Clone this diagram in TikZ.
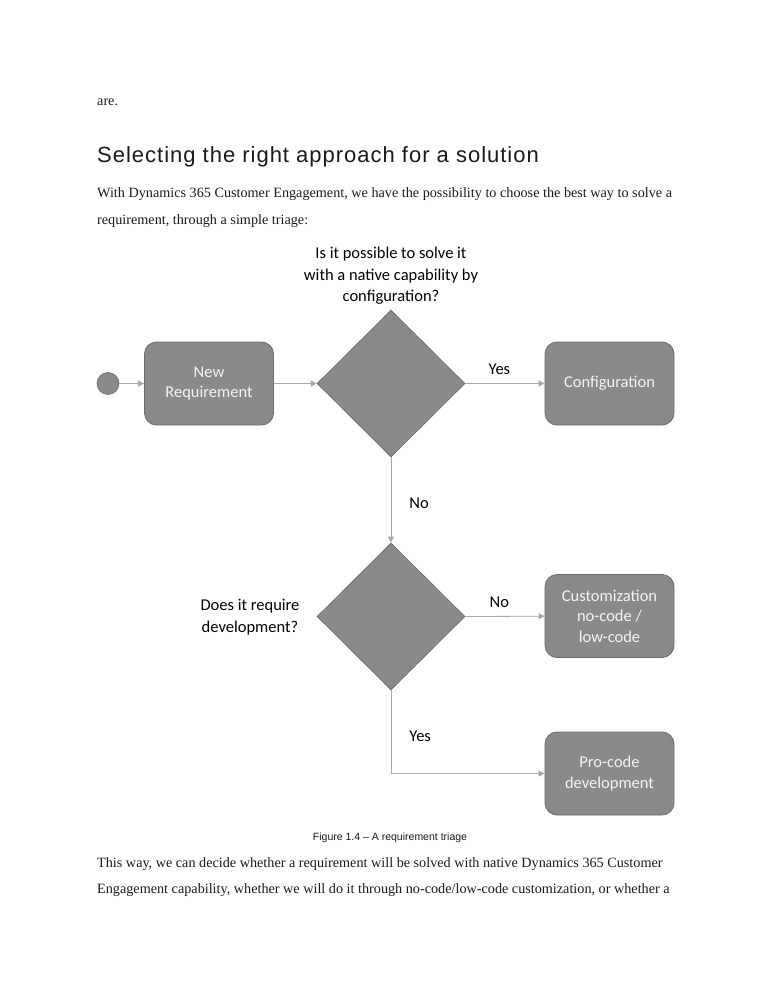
\documentclass[tikz,border=0pt]{standalone}
\usepackage{fontspec}
\setmainfont{Liberation Serif}
\newfontfamily\diagfont{Carlito}
\newfontfamily\headfont[LetterSpace=4.5]{Liberation Sans}
\newfontfamily\capfont{Liberation Sans}
\usetikzlibrary{arrows.meta,shapes.geometric}
\definecolor{boxfill}{HTML}{8A8A8A}
\definecolor{boxline}{HTML}{6A6A6A}
\definecolor{boxtext}{HTML}{F4F4F4}
\definecolor{conn}{HTML}{A8A8A8}
\definecolor{bodytext}{HTML}{1A1A1A}
\begin{document}
\begin{tikzpicture}[x=1pt,y=-1pt,
  body/.style={anchor=base west,inner sep=0pt,text=bodytext,font=\fontsize{14.2}{16}\selectfont},
  stepbox/.style={draw=boxline,fill=boxfill,rounded corners=12pt,minimum width=129pt,minimum height=83pt,
     text=boxtext,align=center,font=\diagfont\fontsize{16.5}{20.5}\selectfont,line width=0.8pt},
  decision/.style={diamond,draw=boxline,fill=boxfill,minimum width=148pt,minimum height=147pt,inner sep=0pt,line width=0.6pt},
  qtext/.style={align=center,text=black,font=\diagfont\fontsize{16.5}{21.5}\selectfont,inner sep=0pt},
  conn/.style={draw=conn,line width=0.8pt,-{Triangle[length=6pt,width=6pt,fill=conn]}},
  plain/.style={draw=conn,line width=0.8pt}
]
\useasboundingbox (0,0) rectangle (772,1000);
% page text
\node[body] (t0) at (97,106) {are.};
\node[anchor=base west,inner sep=0pt,text=bodytext,font=\headfont\fontsize{22}{26}\selectfont] (head) at (97,163) {Selecting the right approach for a solution};
\node[body] (p1) at (97,198) {With Dynamics 365 Customer Engagement, we have the possibility to choose the best way to solve a};
\node[body] (p2) at (97,225) {requirement, through a simple triage:};
% diagram
\node[circle,draw=boxline,fill=boxfill,minimum size=22pt,inner sep=0pt,line width=0.6pt] (start) at (108,383.5) {};
\node[stepbox] (req) at (209,383.5) {New\\Requirement};
\node[decision] (d1) at (391,383.5) {};
\node[stepbox] (conf) at (609.5,383.5) {Configuration};
\node[decision] (d2) at (391,616.5) {};
\node[stepbox] (cust) at (609.5,616) {Customization\\no-code /\\low-code};
\node[stepbox] (pro) at (609.5,773.5) {Pro-code\\development};
\node[qtext] (q1) at (391,276) {Is it possible to solve it\\with a native capability by\\configuration?};
\node[qtext] (q2) at (250,617) {Does it require\\development?};
\draw[conn] (start) -- (req);
\draw[conn] (req) -- (d1.west);
\draw[conn] (d1.east) -- node[qtext,above=8pt,pos=0.43] (lyes1) {Yes} (conf);
\draw[conn] (d1.south) -- node[qtext,right=18pt,pos=0.54] (lno1) {No} (d2.north);
\draw[conn] (d2.east) -- node[qtext,above=8pt,pos=0.43] (lno2) {No} (cust);
\coordinate (corner) at (d2.south |- pro.west);
\draw[plain] (d2.south) -- node[qtext,right=18pt,pos=0.55] (lyes2) {Yes} (corner);
\draw[conn] (corner) -- (pro.west);
% caption and text below
\node[inner sep=0pt,anchor=base,text=bodytext,font=\capfont\fontsize{10.5}{12}\selectfont] (cap) at (390,840) {Figure 1.4 – A requirement triage};
\node[body] (p3) at (97,867) {This way, we can decide whether a requirement will be solved with native Dynamics 365 Customer};
\node[body] (p4) at (97,893) {Engagement capability, whether we will do it through no-code/low-code customization, or whether a};
\end{tikzpicture}
\end{document}
